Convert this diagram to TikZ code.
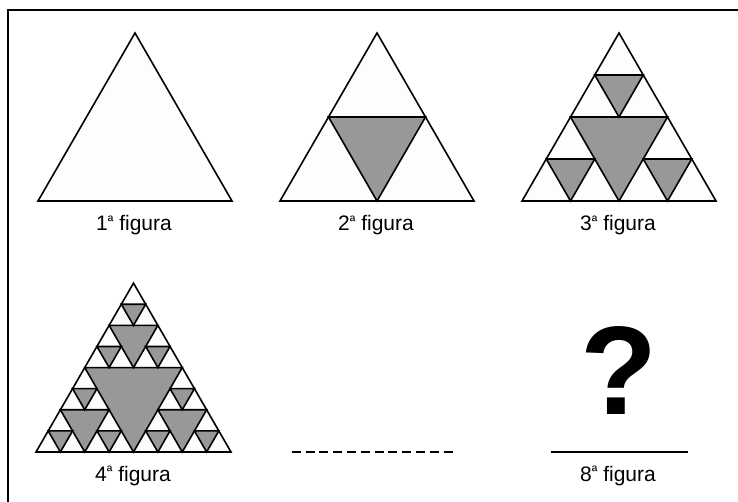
\documentclass[tikz,border=0pt]{standalone}
\usepackage{fontspec}
\setmainfont{Liberation Sans}
\definecolor{gfill}{HTML}{989898}
\definecolor{wfill}{HTML}{FDFDFD}
\tikzset{
  tri/.style={line width=1.6pt, line join=miter, draw=black, fill=wfill},
  gtri/.style={line width=1.6pt, line join=miter, draw=black, fill=gfill},
  lbl/.style={anchor=base, inner sep=0pt, font=\fontsize{21}{23}\selectfont},
  frameline/.style={line width=1.6pt},
}
\newcommand\ordA{\raisebox{4.5pt}{\fontsize{15}{15}\selectfont ª}}
% recursive Sierpinski: level, x, y (bottom-left), side ; y axis points down
\newcommand\sierp[4]{%
  \ifnum#1>0
    \begingroup
    \pgfmathsetmacro\shs{#4/2}%
    \pgfmathsetmacro\shh{#4*0.8660254/2}%
    \pgfmathsetmacro\sxa{#2+#4/4}%
    \pgfmathsetmacro\sxb{#2+3*#4/4}%
    \pgfmathsetmacro\sxc{#2+#4/2}%
    \pgfmathsetmacro\sya{#3-\shh}%
    \filldraw[gtri] (\sxa,\sya) -- (\sxb,\sya) -- (\sxc,#3) -- cycle;
    \pgfmathtruncatemacro\snl{#1-1}%
    \edef\snext{\noexpand\sierp{\snl}{#2}{#3}{\shs}\noexpand\sierp{\snl}{\sxc}{#3}{\shs}\noexpand\sierp{\snl}{\sxa}{\sya}{\shs}}%
    \snext
    \endgroup
  \fi}
\newcommand\bigtri[4]{% level, x, y, side
  \pgfmathsetmacro\bxr{#2+#4}%
  \pgfmathsetmacro\bxm{#2+#4/2}%
  \pgfmathsetmacro\bya{#3-#4*0.8660254}%
  \filldraw[tri] (#2,#3) -- (\bxr,#3) -- (\bxm,\bya) -- cycle;
  \sierp{#1}{#2}{#3}{#4}}
\begin{document}
\begin{tikzpicture}[x=1pt,y=-1pt]
\useasboundingbox (0,0) rectangle (738,502);
\coordinate (fa) at (7.7,503);
\coordinate (fb) at (7.7,10);
\coordinate (fc) at (739,10);
\draw[frameline] (fa) -- (fb) -- (fc);
\bigtri{0}{38}{201}{194}
\bigtri{1}{280}{201}{194}
\bigtri{2}{522}{201}{194}
\bigtri{3}{36}{452}{195}
\node[lbl] (l1) at (134,231) {1\ordA\ figura};
\node[lbl] (l2) at (376,231) {2\ordA\ figura};
\node[lbl] (l3) at (618,231) {3\ordA\ figura};
\node[lbl] (l4) at (133,481) {4\ordA\ figura};
\node[lbl] (l8) at (618,481) {8\ordA\ figura};
\node[anchor=base, inner sep=0pt, font=\fontsize{126}{126}\selectfont\bfseries] (q) at (619,414) {?};
\coordinate (da) at (291.7,452);
\coordinate (db) at (452.7,452);
\draw[line width=1.6pt, dash pattern=on 9pt off 4.8pt] (da) -- (db);
\coordinate (sa) at (550.7,452);
\coordinate (sb) at (687.7,452);
\draw[line width=1.6pt] (sa) -- (sb);
\end{tikzpicture}
\end{document}
